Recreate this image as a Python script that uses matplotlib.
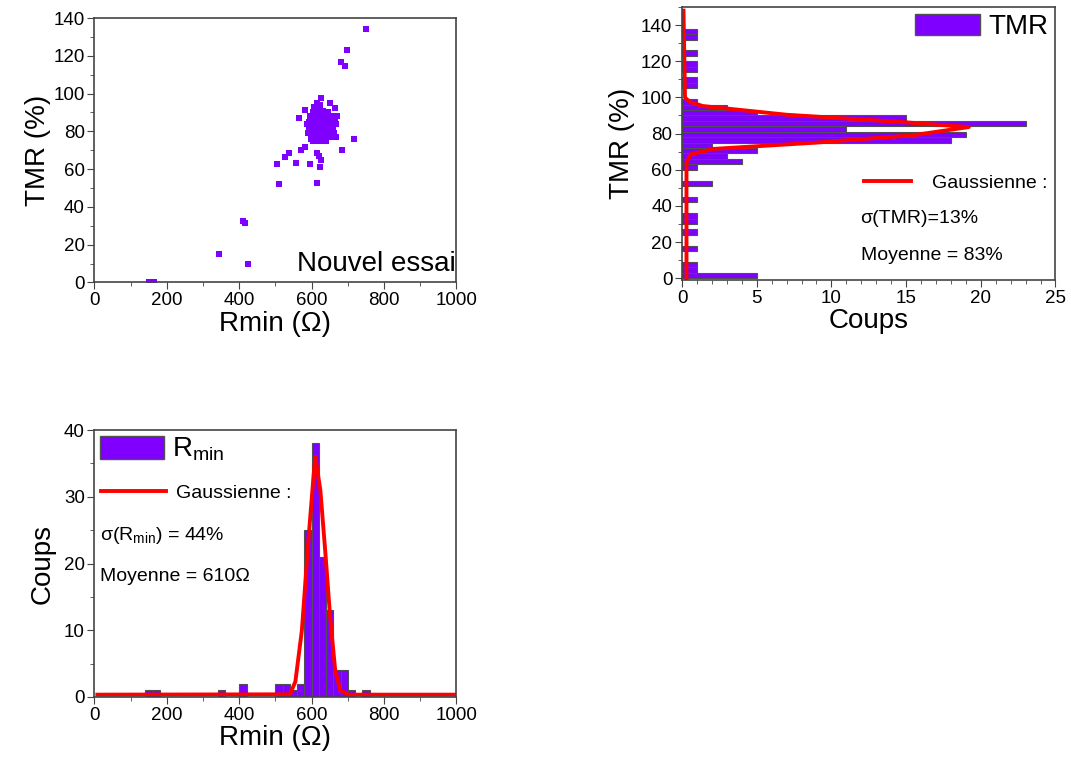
import matplotlib
matplotlib.use("Agg")
import matplotlib.pyplot as plt
from matplotlib.patches import Patch
from matplotlib.lines import Line2D
from matplotlib.ticker import MultipleLocator

plt.rcParams['font.family'] = ['Liberation Sans', 'DejaVu Sans']
plt.rcParams['mathtext.fontset'] = 'custom'
plt.rcParams['mathtext.rm'] = 'Liberation Sans'

violet = '#7F00FF'
edge = '#505050'
frame = '#444444'

# --- scatter: Rmin (ohm) vs TMR (%) ---
scat_rmin = [750, 697, 680, 693, 626, 650, 664, 623, 581, 566, 669, 666, 667, 718,
             685, 581, 571, 538, 526, 503, 558, 596, 615, 619, 625, 624, 510, 614,
             409, 415, 344, 151, 165,
             596, 600, 604, 608, 612, 616, 620, 624, 628, 632, 636, 640, 644, 648,
             652, 656, 660, 664, 592, 596, 600, 604, 608, 612, 616, 620, 624, 628,
             632, 636, 640, 644, 650, 655, 658, 598, 604, 610, 616, 622, 628, 634,
             640, 646, 652, 594, 606, 618, 630, 642, 610, 622, 634, 602, 614, 626,
             638, 590, 586, 606, 614, 635, 645, 660, 662, 618, 626, 600]
scat_tmr = [134, 123, 116.7, 114.5, 97.7, 95, 92.6, 93.9, 91.4, 87, 88.2, 83.8, 76.8, 76,
            70.3, 71.5, 70, 68.8, 66.6, 62.7, 63, 62.9, 68.8, 66.9, 65.1, 61.3, 52.1, 52.7,
            32.8, 31.3, 15, 0.3, 0.1,
            88, 86, 90, 84, 88, 92, 86, 90, 84, 88, 82, 86, 84, 88,
            86, 84, 88, 86, 82, 80, 84, 78, 82, 80, 84, 78, 82, 80,
            78, 80, 78, 80, 82, 80, 78, 76, 75, 77, 75, 76, 75, 76,
            75, 77, 77, 85, 87, 89, 91, 89, 86, 85, 85, 81, 79, 78,
            83, 79, 84, 93, 95, 87, 90, 82, 79, 82, 87, 79]

# --- TMR histogram (bins of 3 %) ---
tmr_bin_left = [0, 3, 6, 15, 24, 30, 33, 42, 51, 60, 63, 66, 69, 72, 75, 78, 81, 84,
                87, 90, 93, 96, 105, 108, 114, 117, 123, 132, 135]
tmr_counts = [5, 1, 1, 1, 1, 1, 1, 1, 2, 1, 4, 3, 5, 2, 18, 19, 11, 23,
              15, 5, 3, 1, 1, 1, 1, 1, 1, 1, 1]
# gaussian fit as drawn (TMR %, counts)
gauss_tmr = [0, 60, 64, 68.5, 71.5, 75, 79.1, 83.6, 86.5, 90.4, 95.2, 97.5, 100, 148]
gauss_tmr_counts = [0.3, 0.3, 0.3, 0.6, 2.1, 9, 15.5, 19.2, 14.5, 7, 1.4, 0.5, 0.2, 0.1]

# --- Rmin histogram (bins of 20 ohm) ---
rmin_bin_left = [140, 160, 340, 400, 500, 520, 540, 560, 580, 600, 620, 640, 660, 680, 700, 740]
rmin_counts = [1, 1, 1, 2, 2, 2, 1, 2, 25, 38, 21, 13, 4, 4, 1, 1]
gauss_rmin = [8, 540, 555, 573, 591, 605, 610, 624, 638, 651, 665, 679, 702, 999]
gauss_rmin_counts = [0.35, 0.4, 2.3, 10, 23.5, 33, 36, 31, 21.5, 12, 4, 1, 0.35, 0.35]


def style_axes(ax):
    for s in ax.spines.values():
        s.set_color(frame)
        s.set_linewidth(1.2)
    ax.tick_params(which='both', direction='out', color=frame, labelsize=13.5, pad=2)
    ax.tick_params(which='major', length=5)
    ax.tick_params(which='minor', length=3)


fig = plt.figure(figsize=(10.71, 7.6), dpi=100)

# panel 1: scatter
ax1 = fig.add_axes([0.0882, 0.6283, 0.338, 0.348])
ax1.scatter(scat_rmin, scat_tmr, marker='s', s=24, color=violet, linewidths=0,
            label='Nouvel essai')
ax1.set_xlim(0, 1000)
ax1.set_ylim(0, 140)
ax1.xaxis.set_major_locator(MultipleLocator(200))
ax1.xaxis.set_minor_locator(MultipleLocator(100))
ax1.yaxis.set_major_locator(MultipleLocator(20))
ax1.yaxis.set_minor_locator(MultipleLocator(10))
ax1.set_xlabel('Rmin (Ω)', fontsize=20, labelpad=1)
ax1.set_ylabel('TMR (%)', fontsize=20, labelpad=2)
ax1.legend(loc='lower right', frameon=False, fontsize=20, markerscale=1.0,
           handletextpad=0.75, borderaxespad=0.0, borderpad=0.1,
           bbox_to_anchor=(1.005, 0.01))
style_axes(ax1)

# panel 2: TMR histogram
ax2 = fig.add_axes([0.6368, 0.6316, 0.3487, 0.3592])
ax2.barh(tmr_bin_left, tmr_counts, height=3, align='edge', color=violet,
         edgecolor=edge, linewidth=0.8)
ax2.plot(gauss_tmr_counts, gauss_tmr, color='red', lw=2.8)
ax2.set_xlim(0, 25)
ax2.set_ylim(-1, 150)
ax2.xaxis.set_major_locator(MultipleLocator(5))
ax2.xaxis.set_minor_locator(MultipleLocator(1))
ax2.yaxis.set_major_locator(MultipleLocator(20))
ax2.yaxis.set_minor_locator(MultipleLocator(10))
ax2.set_xlabel('Coups', fontsize=20, labelpad=1)
ax2.set_ylabel('TMR (%)', fontsize=20, labelpad=4)
style_axes(ax2)
leg_a = ax2.legend([Patch(facecolor=violet, edgecolor=edge)], ['TMR'], loc='upper right',
                   frameon=False, fontsize=20, handlelength=2.35, handleheight=0.8,
                   handletextpad=0.3, borderaxespad=0.05, borderpad=0.2)
ax2.add_artist(leg_a)
ax2.legend([Line2D([0], [0], color='red', lw=2.8)], ['Gaussienne :'],
           loc='center left', bbox_to_anchor=(0.44, 0.355), frameon=False,
           fontsize=14, handlelength=2.4, handletextpad=1.1)
ax2.text(0.478, 0.225, 'σ(TMR)=13%', transform=ax2.transAxes, fontsize=14, va='center')
ax2.text(0.478, 0.09, 'Moyenne = 83%', transform=ax2.transAxes, fontsize=14, va='center')

# panel 3: Rmin histogram
ax3 = fig.add_axes([0.0882, 0.0829, 0.338, 0.3513])
ax3.bar(rmin_bin_left, rmin_counts, width=20, align='edge', color=violet,
        edgecolor=edge, linewidth=0.8)
ax3.plot(gauss_rmin, gauss_rmin_counts, color='red', lw=2.8)
ax3.set_xlim(0, 1000)
ax3.set_ylim(0, 40)
ax3.xaxis.set_major_locator(MultipleLocator(200))
ax3.xaxis.set_minor_locator(MultipleLocator(100))
ax3.yaxis.set_major_locator(MultipleLocator(10))
ax3.yaxis.set_minor_locator(MultipleLocator(5))
ax3.set_xlabel('Rmin (Ω)', fontsize=20, labelpad=1)
ax3.set_ylabel('Coups', fontsize=20, labelpad=6)
style_axes(ax3)
leg_b = ax3.legend([Patch(facecolor=violet, edgecolor=edge)], [r'R$_{\mathregular{min}}$'],
                   loc='upper left', frameon=False, fontsize=20, handlelength=2.3,
                   handleheight=0.9, handletextpad=0.3, borderaxespad=0.0, borderpad=0.2)
ax3.add_artist(leg_b)
ax3.legend([Line2D([0], [0], color='red', lw=2.8)], ['Gaussienne :'],
           loc='center left', bbox_to_anchor=(-0.03, 0.765), frameon=False,
           fontsize=14, handlelength=3.35, handletextpad=0.5)
ax3.text(0.015, 0.605, r'σ(R$_{\mathregular{min}}$) = 44%', transform=ax3.transAxes,
         fontsize=14, va='center')
ax3.text(0.015, 0.45, 'Moyenne = 610Ω', transform=ax3.transAxes, fontsize=14, va='center')

fig.savefig('out.png', dpi=100)
